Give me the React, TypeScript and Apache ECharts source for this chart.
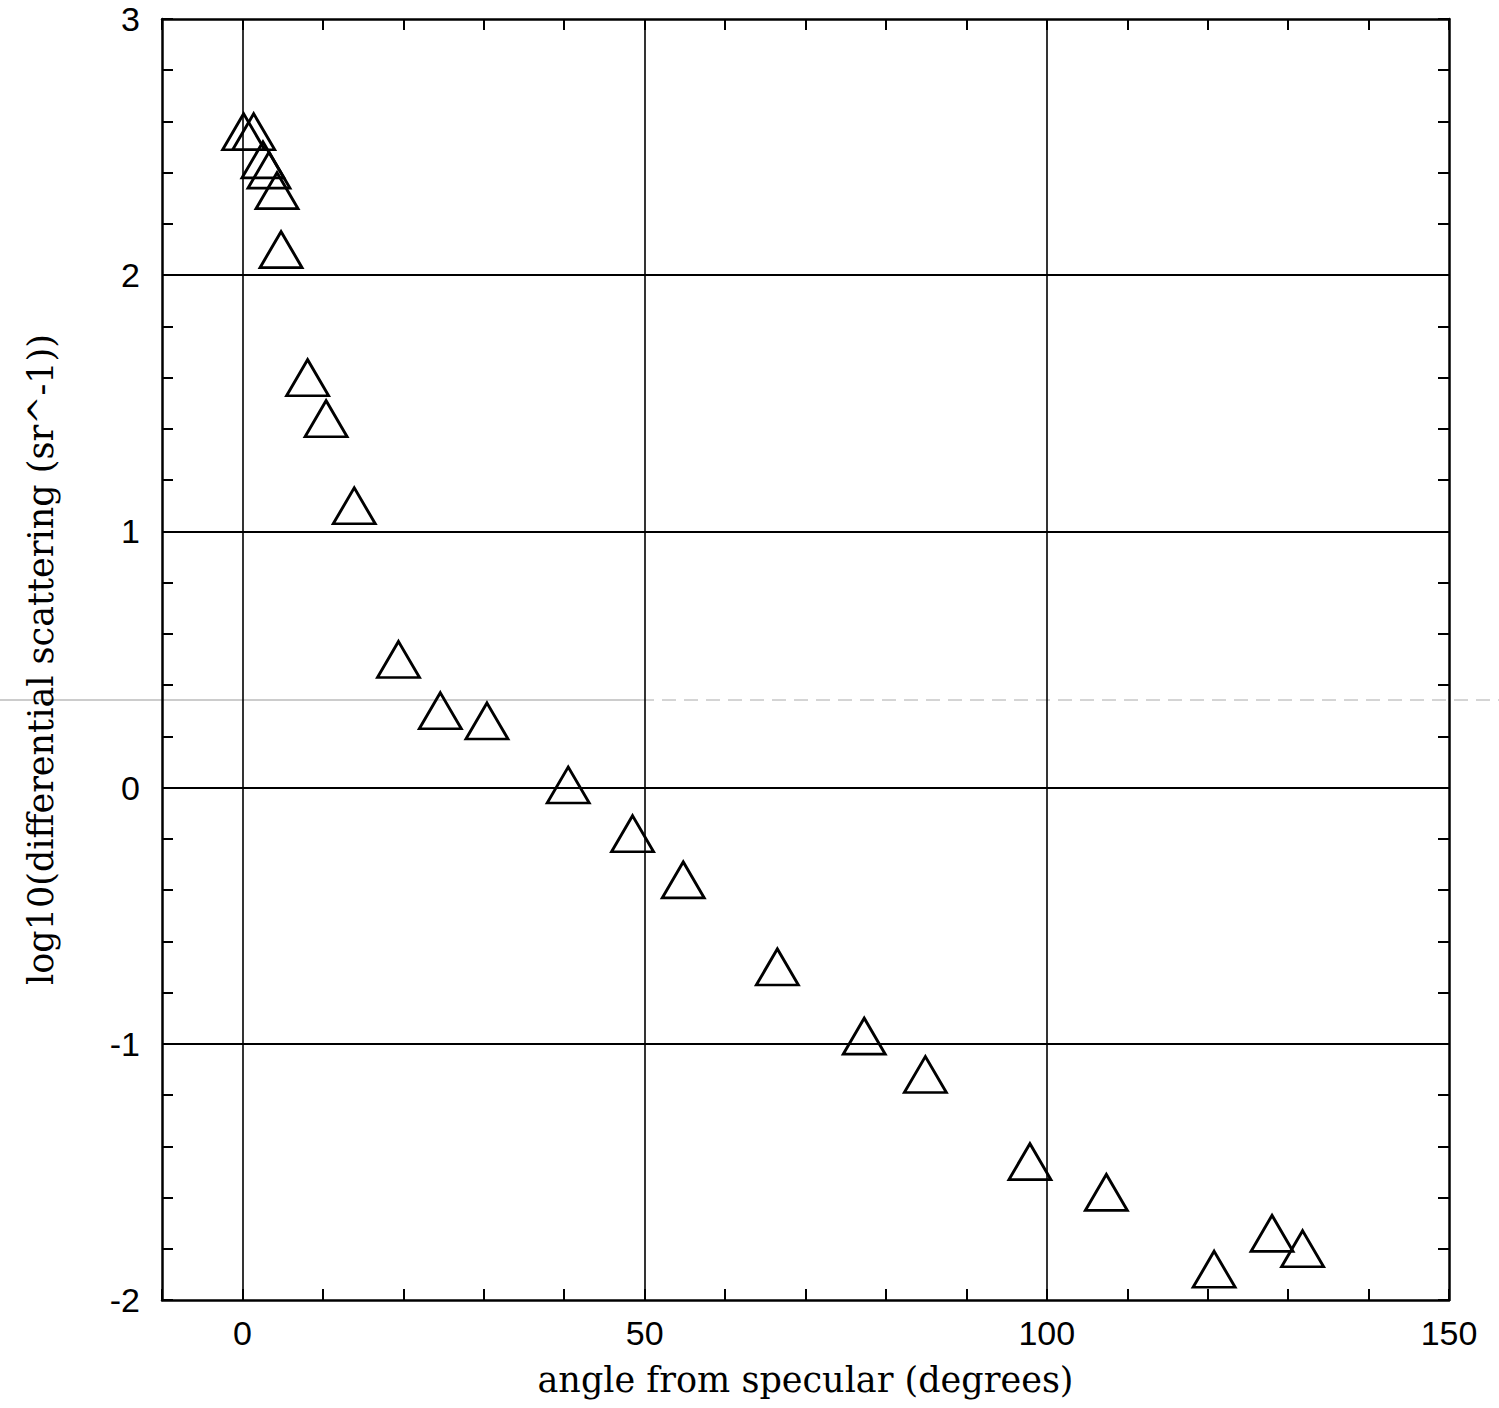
import React, { useEffect, useRef } from "react";
import * as echarts from "echarts";

const angleDeg = [0.15, 1.4, 2.55, 3.3, 4.3, 4.8, 8.1, 10.4, 13.9, 19.4, 24.6, 30.4, 40.5, 48.5, 54.8, 66.5, 77.3, 84.9, 97.9, 107.4, 120.8, 128.0, 131.8];
const logScatter = [2.56, 2.56, 2.45, 2.41, 2.33, 2.1, 1.6, 1.44, 1.1, 0.5, 0.3, 0.26, 0.01, -0.18, -0.36, -0.7, -0.97, -1.12, -1.46, -1.58, -1.88, -1.74, -1.8];
const xGridLines = [0, 50, 100];
const yGridLines = [-1, 0, 1, 2];
const xTitle = "angle from specular (degrees)";
const yTitle = "log10(differential scattering (sr^-1))";

export default function App() {
  const ref = useRef<HTMLDivElement>(null);
  useEffect(() => {
    if (!ref.current) return;
    const chart = echarts.init(ref.current, null, { renderer: "svg" });
    const axisLine = { show: true, onZero: false, lineStyle: { color: "#000", width: 2.5 } };
    const tick = { show: true, inside: true, length: 11, lineStyle: { color: "#000", width: 2 } };
    const lblFont = { color: "#000", fontSize: 34, fontFamily: "Liberation Sans, Arial, sans-serif" };
    const titleFont = { color: "#000", fontSize: 35, fontFamily: "DejaVu Serif, serif" };
    chart.setOption({
      animation: false,
      backgroundColor: "#fff",
      grid: { left: 162, right: 50, top: 19, bottom: 108, containLabel: false },
      xAxis: [
        {
          type: "value", min: -10, max: 150, interval: 10, position: "bottom",
          axisLine, axisTick: tick, splitLine: { show: false },
          axisLabel: { ...lblFont, margin: 16, formatter: (v: number) => (Math.round(v) % 50 === 0 && v >= 0 ? String(Math.round(v)) : "") },
          name: xTitle, nameLocation: "middle", nameGap: 62, nameTextStyle: titleFont,
        },
        {
          type: "value", min: -10, max: 150, interval: 10, position: "top",
          axisLine, axisTick: tick, splitLine: { show: false }, axisLabel: { show: false },
        },
      ],
      yAxis: [
        {
          type: "value", min: -2, max: 3, interval: 0.2, position: "left",
          axisLine, axisTick: tick, splitLine: { show: false },
          axisLabel: {
            ...lblFont, margin: 22,
            formatter: (v: number) => (Math.abs(v - Math.round(v)) < 1e-6 ? String(Math.round(v)) : ""),
          },
          name: yTitle, nameLocation: "middle", nameGap: 104, nameTextStyle: titleFont,
        },
        {
          type: "value", min: -2, max: 3, interval: 0.2, position: "right",
          axisLine, axisTick: tick, splitLine: { show: false }, axisLabel: { show: false },
        },
      ],
      graphic: [
        { type: "line", shape: { x1: 0, y1: 700, x2: 640, y2: 700 }, style: { stroke: "#999", lineWidth: 1 }, silent: true },
        { type: "line", shape: { x1: 640, y1: 700, x2: 1499, y2: 700 }, style: { stroke: "#aaa", lineWidth: 1, lineDash: [14, 8] }, silent: true },
      ],
      series: [
        {
          type: "scatter",
          xAxisIndex: 0, yAxisIndex: 0,
          data: angleDeg.map((x, i) => [x, logScatter[i]]),
          symbol: "triangle",
          symbolSize: [42, 36],
          itemStyle: { color: "rgba(0,0,0,0)", borderColor: "#000", borderWidth: 2.8, opacity: 1 },
          markLine: {
            silent: true, symbol: "none", label: { show: false },
            data: [
              ...xGridLines.map((v) => ({ xAxis: v, lineStyle: { color: "#000", width: 1.6, type: "solid" } })),
              ...yGridLines.map((v) => ({ yAxis: v, lineStyle: { color: "#000", width: 2.2, type: "solid" } })),
            ],
          },
          z: 3,
        },
      ],
    });
    return () => chart.dispose();
  }, []);
  return <div ref={ref} style={{ position: "absolute", left: 0, top: 0, width: 1499, height: 1408 }} />;
}
